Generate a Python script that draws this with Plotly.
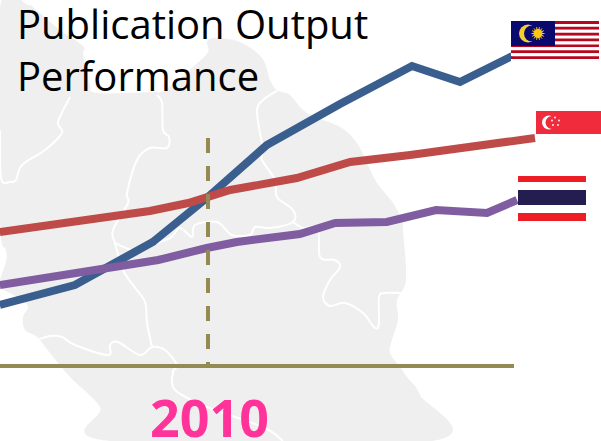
import math
import plotly.graph_objects as go

W, H = 601, 441

# Chart data (years, output index)
malaysia_years = [2006.53, 2007.78, 2009.08, 2010.0, 2010.98, 2012.2, 2013.4, 2014.2, 2015.07]
malaysia_values = [136, 156, 199, 244, 296, 337, 375, 359, 385]
singapore_years = [2006.53, 2007.57, 2009.03, 2009.67, 2010.37, 2011.48, 2012.37, 2013.37, 2014.37, 2015.45]
singapore_values = [209, 217, 230, 238, 251, 263, 279, 286, 294, 303]
thailand_years = [2006.53, 2009.17, 2009.98, 2010.48, 2011.53, 2012.12, 2012.98, 2013.8, 2014.65, 2015.15]
thailand_values = [156, 181, 193, 199, 207, 218, 219, 231, 228, 241]
marker_year = 2010
marker_values = [303, 75]
base_years = [2006.53, 2015.1]
base_values = [75, 75]

title_text = "Publication Output<br>Performance"
year_label = "2010"

BLUE, RED, PURPLE, OLIVE, PINK = "#3a5f8e", "#bf4b49", "#7f5da0", "#948a54", "#ff3399"
GREY = "#efefef"

# Background map outline and borders, in picture pixels
coast = [(0,8),(28,5),(36,10),(60,30),(83,46),(83,54),(86,70),(90,85),(97,93),(150,92),(165,90),(193,67),(208,52),
         (207,42),(215,38),(240,42),(262,58),(270,80),(277,90),(290,95),(307,113),(340,127),(357,143),(367,163),
         (377,183),(393,203),(402,220),(403,230),(406,280),(397,300),(398,320),(392,340),(390,353),(400,367),
         (407,377),(420,395),(432,441),(110,441),(100,407),(70,377),(50,353),(37,337),(25,330),(23,317),(28,306),
         (15,296),(0,285),(6,262),(6,250),(0,218)]
borders = [
    [(0,130),(1,178),(10,182),(16,180),(22,165),(45,150),(62,133),(58,122),(70,97)],
    [(157,95),(162,103),(163,130),(169,137),(167,148),(150,148),(137,160),(127,193),(128,203),(113,230),(115,243),
     (123,270),(133,285),(145,302),(147,323),(152,347)],
    [(37,340),(50,336),(62,337),(75,345),(108,355),(110,345),(118,342),(140,355),(152,347),(165,350),(177,365),
     (173,372),(175,390),(207,407),(263,427),(283,441)],
    [(115,243),(133,250),(150,245),(170,238),(180,228),(192,237),(195,225),(217,222),(232,235),(250,235),(255,227),
     (270,228),(293,222),(293,210),(277,197),(275,180),(262,160),(263,150),(260,133),(257,110),(263,100),(278,90)],
    [(293,222),(303,228),(318,228),(320,257),(335,260),(340,267),(330,280),(323,297),(330,306),(345,303),(363,313),
     (375,328),(379,323),(379,297),(385,293),(402,293)],
]


def fx(x):
    return x / W


def fy(y):
    return 1 - y / H


def smooth(pts, closed=False):
    out = "M%.4f,%.4f" % (fx(pts[0][0]), fy(pts[0][1]))
    n = len(pts)
    for i in range(n if closed else n - 1):
        if closed:
            p0, p1, p2, p3 = pts[(i-1) % n], pts[i], pts[(i+1) % n], pts[(i+2) % n]
        else:
            p0, p1, p2, p3 = pts[max(i-1, 0)], pts[i], pts[i+1], pts[min(i+2, n-1)]
        c1 = (p1[0] + (p2[0]-p0[0]) / 6, p1[1] + (p2[1]-p0[1]) / 6)
        c2 = (p2[0] - (p3[0]-p1[0]) / 6, p2[1] - (p3[1]-p1[1]) / 6)
        out += " C%.4f,%.4f %.4f,%.4f %.4f,%.4f" % (fx(c1[0]), fy(c1[1]), fx(c2[0]), fy(c2[1]), fx(p2[0]), fy(p2[1]))
    return out + (" Z" if closed else "")


def rect(x0, y0, x1, y1, color):
    return dict(type="rect", xref="paper", yref="paper", layer="above", x0=fx(x0), x1=fx(x1), y0=fy(y1), y1=fy(y0),
                fillcolor=color, line_width=0)


def circle(cx, cy, r, color):
    return dict(type="circle", xref="paper", yref="paper", layer="above", x0=fx(cx-r), x1=fx(cx+r), y0=fy(cy+r), y1=fy(cy-r),
                fillcolor=color, line_width=0)


shapes = [dict(type="path", xref="paper", yref="paper", layer="below", path=smooth(coast, True), fillcolor=GREY, line_width=0)]
for b in borders:
    shapes.append(dict(type="path", xref="paper", yref="paper", layer="below", path=smooth(b),
                       line=dict(color="white", width=2), fillcolor="rgba(0,0,0,0)"))

# Malaysia flag
fx0, fx1, fy0, fy1 = 511, 599, 21, 62
sh = (fy1 - fy0) / 14
for i in range(14):
    shapes.append(rect(fx0, fy0 + i*sh, fx1, fy0 + (i+1)*sh, "#b5071d" if i % 2 == 0 else "#ffffff"))
shapes.append(rect(511, 21, 555, 46, "#0a0a6e"))
shapes.append(circle(528, 33.5, 9, "#f5cf2b"))
shapes.append(circle(532, 33.5, 8, "#0a0a6e"))
shapes.append(circle(538, 33.5, 4.5, "#fcc80f"))
for k in range(14):
    a = 2 * math.pi * k / 14
    shapes.append(dict(type="line", xref="paper", yref="paper", layer="above",
                       x0=fx(538), y0=fy(33.5), x1=fx(538 + 6.5*math.cos(a)), y1=fy(33.5 + 6.5*math.sin(a)),
                       line=dict(color="#fcc80f", width=1)))

# Singapore flag
shapes.append(rect(536, 111, 601, 134, "#ef2b3c"))
shapes.append(circle(549, 122.5, 7, "#ffffff"))
shapes.append(circle(552, 122.5, 6.5, "#ef2b3c"))
for sx, sy in [(555, 117.5), (559, 120.5), (558, 125), (553, 125), (552, 120.5)]:
    shapes.append(circle(sx, sy, 0.9, "#ffffff"))

# Thailand flag
shapes.append(rect(518, 176, 586, 182, "#ee1c25"))
shapes.append(rect(518, 190, 586, 205, "#241d4f"))
shapes.append(rect(518, 213, 586, 221, "#ee1c25"))

fig = go.Figure()
fig.add_trace(go.Scatter(x=base_years, y=base_values, mode="lines", line=dict(color=OLIVE, width=4), name="Axis"))
fig.add_trace(go.Scatter(x=malaysia_years, y=malaysia_values, mode="lines", line=dict(color=BLUE, width=8), name="Malaysia"))
fig.add_trace(go.Scatter(x=singapore_years, y=singapore_values, mode="lines", line=dict(color=RED, width=8), name="Singapore"))
fig.add_trace(go.Scatter(x=thailand_years, y=thailand_values, mode="lines", line=dict(color=PURPLE, width=8), name="Thailand"))
fig.add_trace(go.Scatter(x=[marker_year, marker_year], y=marker_values, mode="lines",
                         line=dict(color=OLIVE, width=4, dash="15px,13px"), name="2010"))

fig.update_layout(
    width=W, height=H, autosize=False, showlegend=False,
    margin=dict(l=0, r=0, t=0, b=0), paper_bgcolor="white", plot_bgcolor="rgba(0,0,0,0)",
    xaxis=dict(range=[2010 - 208/60, 2010 + 393/60], visible=False, fixedrange=True),
    yaxis=dict(range=[0, H], visible=False, fixedrange=True),
    shapes=shapes,
    annotations=[
        dict(text=title_text, xref="paper", yref="paper", x=fx(15), y=fy(-6), xanchor="left", yanchor="top", align="left",
             showarrow=False, font=dict(family="Open Sans", size=40, color="black")),
        dict(text=year_label, xref="paper", yref="paper", x=fx(209), y=fy(416), xanchor="center", yanchor="middle",
             showarrow=False, font=dict(family="Open Sans", size=52, color=PINK, weight="bold")),
    ],
)
fig.write_html("out.html", config=dict(displayModeBar=False),
               post_script="document.body.style.margin='0';document.documentElement.style.overflow='hidden';")
